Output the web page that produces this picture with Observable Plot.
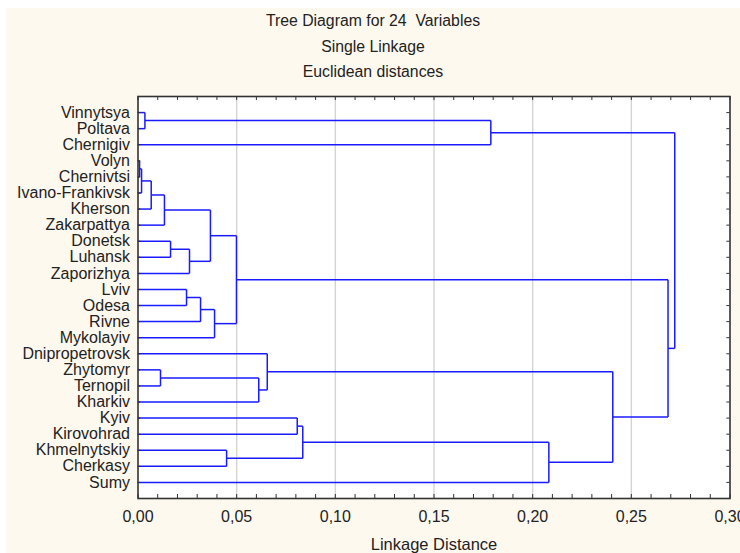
<!DOCTYPE html>
<html>
<head>
<meta charset="utf-8">
<script src="https://cdn.jsdelivr.net/npm/d3@7"></script>
<script src="https://cdn.jsdelivr.net/npm/@observablehq/plot@0.6"></script>
<style>
  html, body { margin: 0; padding: 0; background: #ffffff; }
  #panel { position: absolute; left: 6px; top: 8px; width: 734px; height: 545px; background: #fef9ef; overflow: hidden; }
  #title { height: 76px; text-align: center; font-family: "Liberation Sans", Arial, sans-serif; font-size: 15.8px; color: #222; line-height: 25.5px; white-space: pre; }
  #chart svg { display: block; }
</style>
</head>
<body>
<div id="panel">
  <div id="title"><div>Tree Diagram for 24  Variables</div><div>Single Linkage</div><div>Euclidean distances</div></div>
  <div id="chart"></div>
</div>
<script>
const leaves = ["Vinnytsya","Poltava","Chernigiv","Volyn","Chernivtsi","Ivano-Frankivsk","Kherson","Zakarpattya","Donetsk","Luhansk","Zaporizhya","Lviv","Odesa","Rivne","Mykolayiv","Dnipropetrovsk","Zhytomyr","Ternopil","Kharkiv","Kyiv","Kirovohrad","Khmelnytskiy","Cherkasy","Sumy"];

// merges in order: mergeA[i] joined with mergeB[i] at mergeHeight[i]; "m#" refers to merge #
const mergeA = ["Volyn","m0","Vinnytsya","m1","Zhytomyr","m3","Donetsk","Lviv","m6","m7","m5","m9","Khmelnytskiy","m10","m4","Dnipropetrovsk","Kyiv","m16","m2","m17","m15","m13","m18"];
const mergeB = ["Chernivtsi","Ivano-Frankivsk","Poltava","Kherson","Ternopil","Zakarpattya","Luhansk","Odesa","Zaporizhya","Rivne","m8","Mykolayiv","Cherkasy","m11","Kharkiv","m14","Kirovohrad","m12","Chernigiv","Sumy","m19","m20","m21"];
const mergeHeight = [0.0008,0.0018,0.0035,0.0067,0.0114,0.0134,0.0165,0.0246,0.0261,0.0317,0.0367,0.0388,0.0449,0.0499,0.0612,0.0655,0.0807,0.0835,0.1788,0.2082,0.2406,0.2686,0.2720];

const xTicks = [0, 0.05, 0.10, 0.15, 0.20, 0.25, 0.30];
const xTickLabels = ["0,00","0,05","0,10","0,15","0,20","0,25","0,30"];
const xGrid = [0.05, 0.10, 0.15, 0.20, 0.25];
const xMinorTicks = [0,0.01,0.02,0.03,0.04,0.05,0.06,0.07,0.08,0.09,0.10,0.11,0.12,0.13,0.14,0.15,0.16,0.17,0.18,0.19,0.20,0.21,0.22,0.23,0.24,0.25,0.26,0.27,0.28,0.29,0.30];
const xLabel = "Linkage Distance";

// dendrogram layout
const rows = leaves.map((d, i) => i + 1);
const pos = {};
leaves.forEach((n, i) => pos[n] = {h: 0, r: i + 1});
const segments = [];
mergeA.forEach((a, i) => {
  const b = mergeB[i], h = mergeHeight[i];
  const A = pos[a], B = pos[b];
  segments.push({x1: A.h, x2: h, y1: A.r, y2: A.r});
  segments.push({x1: B.h, x2: h, y1: B.r, y2: B.r});
  segments.push({x1: h, x2: h, y1: A.r, y2: B.r});
  pos["m" + i] = {h, r: (A.r + B.r) / 2};
});

const xMax = xTicks[xTicks.length - 1];
const rowMax = leaves.length + 1;

const chart = Plot.plot({
  width: 734,
  height: 469,
  marginLeft: 131.5,
  marginRight: 10.5,
  marginTop: 12,
  marginBottom: 55,
  style: {background: "transparent", fontFamily: "Liberation Sans, Arial, sans-serif", fontSize: "16px", color: "#222", overflow: "visible"},
  x: {domain: [0, xMax]},
  y: {domain: [0, rowMax], reverse: true},
  marks: [
    Plot.frame({fill: "white", stroke: null}),
    Plot.ruleX(xGrid, {stroke: "#d4d4d4", strokeWidth: 1.4}),
    Plot.link(segments, {x1: "x1", y1: "y1", x2: "x2", y2: "y2", stroke: "#1a1aff", strokeWidth: 1.5}),
    Plot.ruleX(xMinorTicks, {x: d => d, y1: rowMax, y2: rowMax - 0.25, stroke: "#333"}),
    Plot.ruleX(xMinorTicks, {x: d => d, y1: 0, y2: 0.25, stroke: "#333"}),
    Plot.ruleY(rows, {y: d => d, x1: xMax, x2: xMax - 0.0016, stroke: "#333"}),
    Plot.ruleY(rows, {y: d => d, x1: 0, x2: 0.0014, stroke: "#333"}),
    Plot.frame({stroke: "#333", strokeWidth: 1.6}),
    Plot.axisX(xTicks, {tickSize: 0, tickPadding: 12, label: null, tickFormat: d => xTickLabels[xTicks.indexOf(d)]}),
    Plot.axisY(rows, {tickSize: 0, tickPadding: 8, label: null, tickFormat: d => leaves[d - 1]}),
    Plot.text([xLabel], {text: d => d, frameAnchor: "bottom", dy: 51, fontSize: 16.5, fill: "#222"})
  ]
});
document.getElementById("chart").appendChild(chart);
</script>
</body>
</html>
